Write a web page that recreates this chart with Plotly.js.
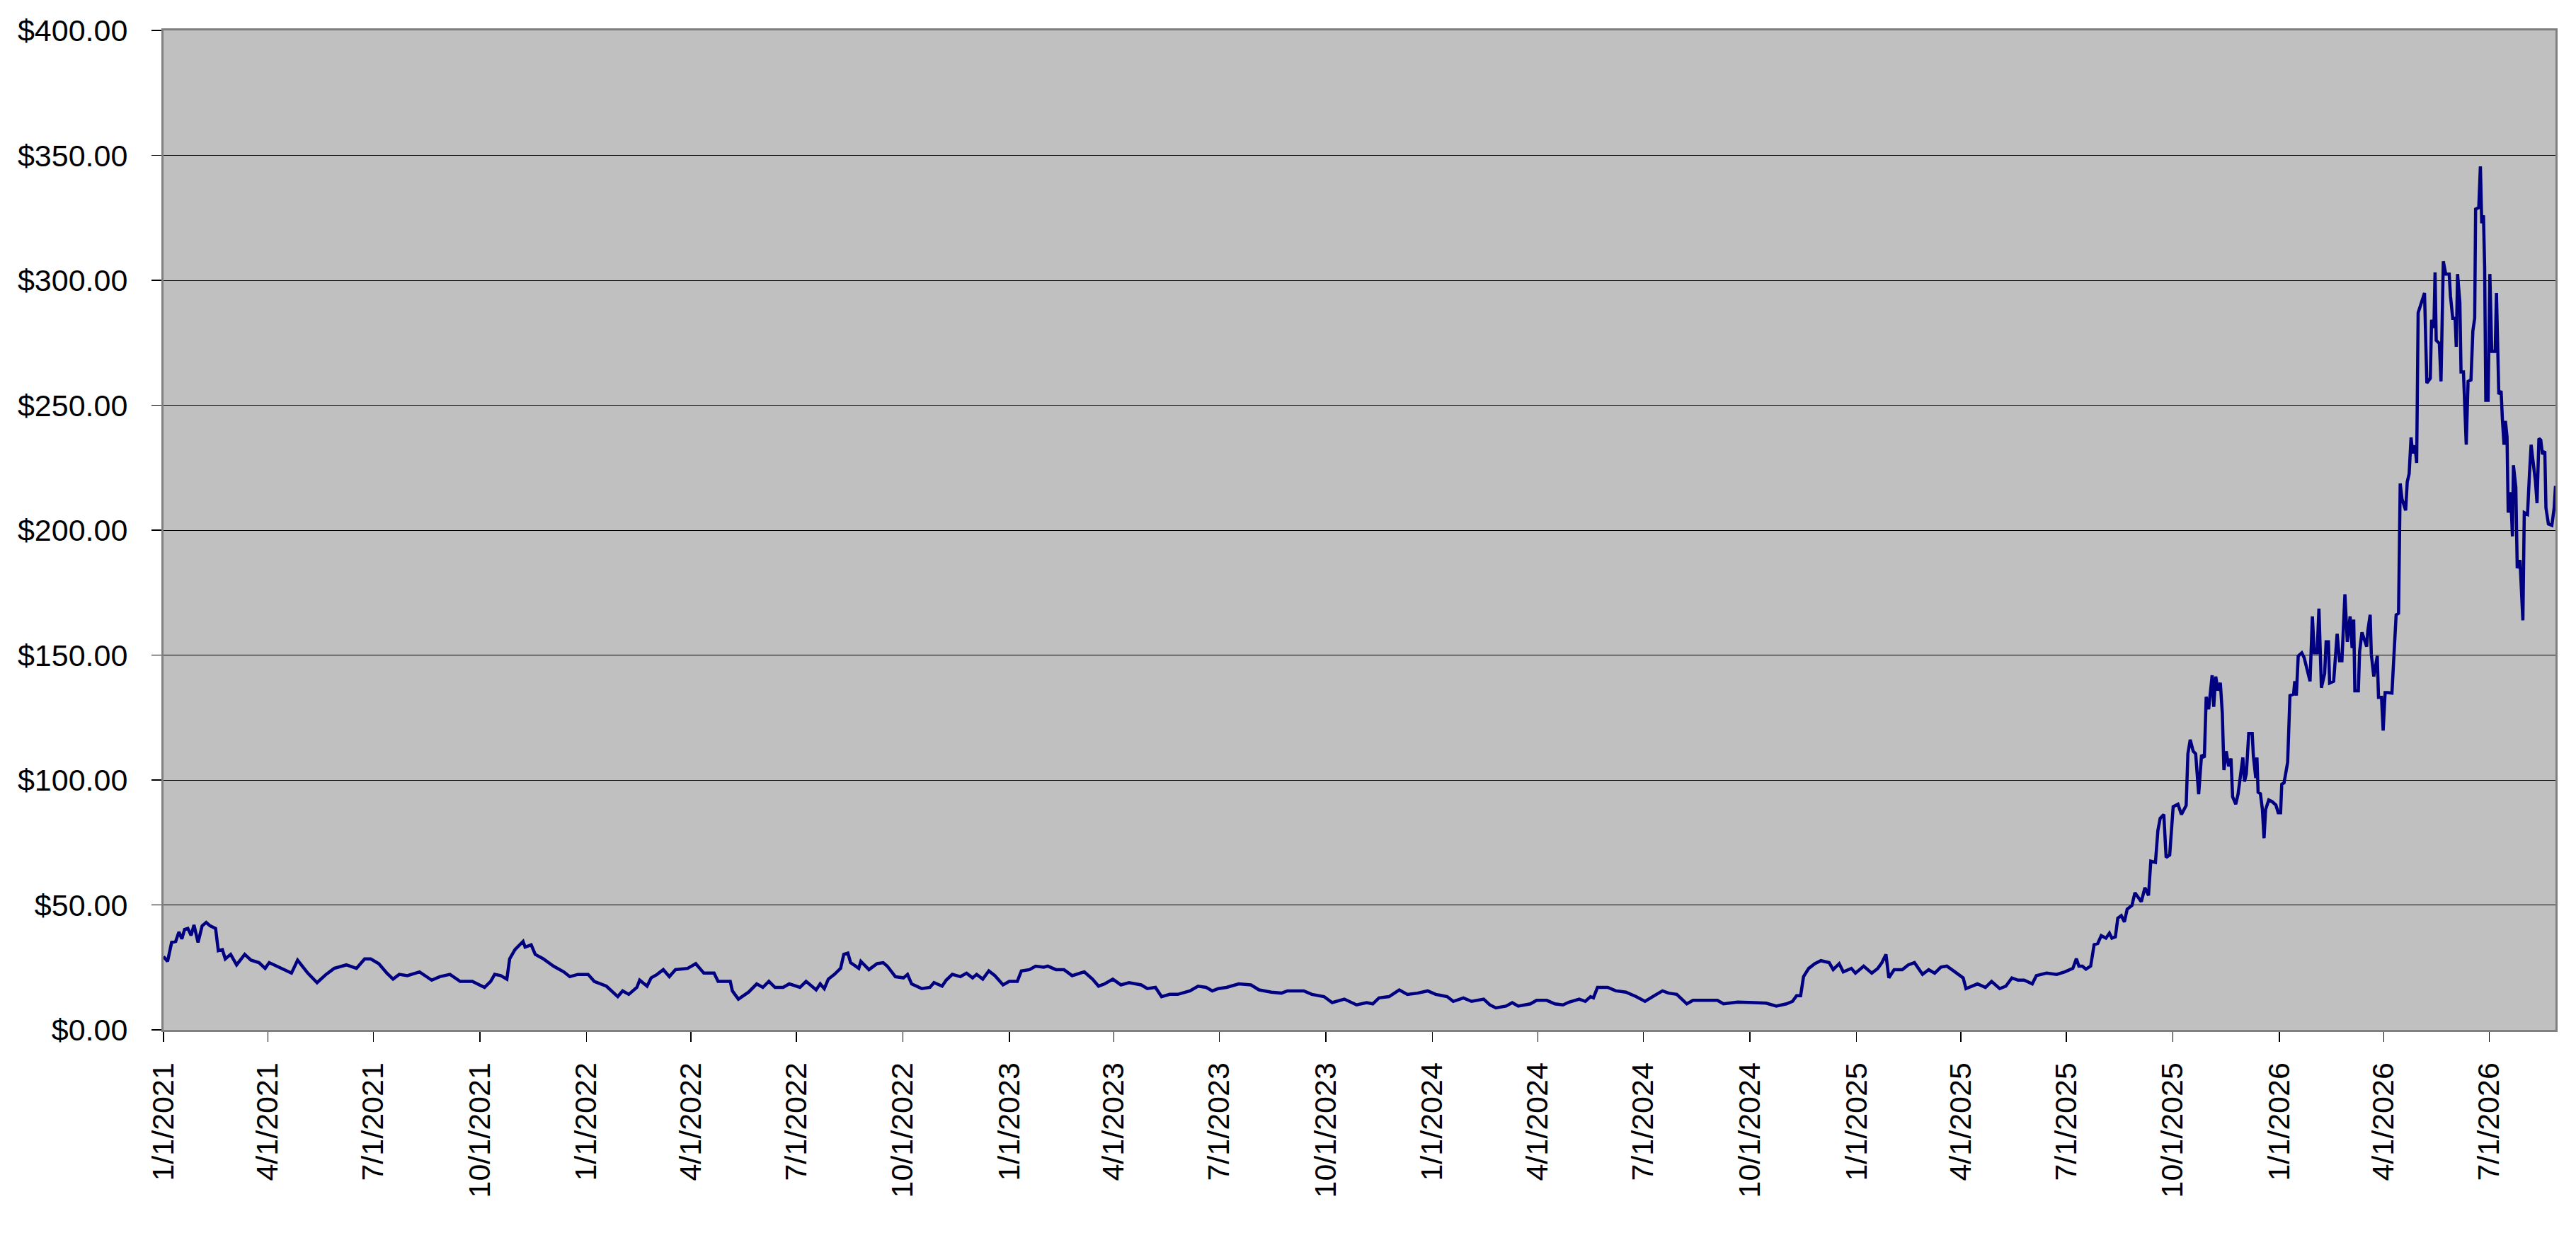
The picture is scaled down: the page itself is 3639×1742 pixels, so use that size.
<!DOCTYPE html>
<html>
<head>
<meta charset="utf-8">
<script src="https://cdn.plot.ly/plotly-3.0.1.min.js"></script>
<style>html,body{margin:0;padding:0;background:#fff;}</style>
</head>
<body>
<div id="chart" style="width:3639px;height:1742px;"></div>
<script>
// Start date of the series and day offsets of each observation
const START_DATE = "2021-01-01";
const dayOffsets = [
  0,3.5,7,10.5,13.3,15.8,18.2,21,23.8,26.3,29.8,33.3,36.8,40.3,44.9,47.3,50.8,53.3,57.9,63.1,
  70.1,75.4,82.4,87.7,91.2,101.7,106.9,110.4,115.7,124.5,132.5,140.3,147.3,157.8,166.5,173.6,178.8,185.8,192.8,198.1,
  203.4,210.4,220.9,231.4,238.4,247.2,256,266.5,277,282.3,285.8,291,296.3,298.7,303.3,310.3,312.1,317.3,320.8,327.8,
  336.6,345.4,350.6,357.6,366.4,371.7,382.2,392,396.2,401.5,408.5,410.9,417.3,420.8,426,431.3,436.5,441.8,452.3,459.3,
  466.3,475.1,478.6,489.1,490.9,496.1,504.9,511.9,517.2,522.4,527.7,534.7,540,
  549.2,554.5,559.7,563.2,566.7,570.2,573.7,579,584.3,587.1,590.6,593,600,601.8,608.8,615.8,621.1,624.6,631.6,638.6,
  642.1,645.6,654.4,661.4,664.9,671.9,675.4,680.7,687.7,693,698.2,701.7,707,712.2,717.5,724.5,729.8,736.8,740.3,747.3,
  752.6,759.6,763.1,770.1,777.1,784.1,794.6,801.7,806.9,812.2,819.2,826.2,833.2,843.7,849,856,861.3,868.3,875.3,885.8,
  892.8,899.8,905.1,910.3,917.4,927.9,938.4,945.4,955.9,964.7,969.9,984,991,1001.5,1008.5,1019,1029.6,1038.3,1043.6,1048.9,
  1057.6,1066.4,1073.4,1082.2,1090.9,1097.9,
  1107.8,1113,1121.8,1128.8,1139.3,1144.6,1149.8,1158.6,1163.9,1169.1,1179.6,1184.9,1193.7,1200.7,1207.7,1213,1221.7,1227,1231.5,1234,
  1237.5,1246.3,1253.3,1262,1270.8,1278.5,1286.6,1293.6,1298.9,1305.9,1314.6,1319.9,1330.4,1340.9,1346.2,1358.5,1372.5,1383,1391.8,1400.5,
  1405.8,1409.3,1412.8,1415.3,1419.8,1425.1,1430.3,1437.4,1440.9,1446.1,1449.6,1456.6,1460.1,1467.2,1474.2,1479.4,1482.9,1486.4,1488.9,1493.5,
  1500.5,1505.7,1511,1518,1523.3,1528.5,1533.8,1539,1546,1553.1,1555.5,1565.4,1572.3,1577.6,1584.6,1589.9,1595.1,1600.4,1605.7,1612.7,
  1616.2,1625,1633.7,1640.7,1647.7,
  1650.8,1652.9,1655.9,1659,1663.1,1666.1,1669.2,1672.2,1676.3,1679.3,1681.4,1684.4,1686.5,1689.5,1692.2,1694.6,1698.7,1701.3,1703.8,1706.8,
  1709.9,1713,1715,1719,1721.1,1723.1,1726.2,1728.2,1731.3,1734.3,1738.4,1741.4,1745.5,1747,1749,1751.6,1753.7,1756.3,1758.8,1761.2,
  1762.8,1764.9,1767.9,1769.3,1771,1773,1775,1776.7,1778.1,1780.1,1782.2,1784.2,1785.6,1788.3,1790.3,1792.4,1794.4,1795.8,1797.4,1799.5,
  1802.5,
  1803.5,1805.6,1806.6,1807.6,1809.6,1811.3,1812.7,1814.1,1816.8,1819.8,1822.9,1824.9,1827,1828,1830,1831.6,1833.1,1835.1,1838.2,1839.2,
  1840.6,1842.2,1845.3,1847.3,1849.4,1852.4,1854.4,1856.1,1858.5,1860.1,1862.2,1865,1866.3,1868.3,1869.3,1872.8,1875.8,1877.9,1879.9,1882.5,
  1884.6,1887,1888.7,1890.1,1891.1,1894.1,1895.2,1897.2,1901.3,1902.3,1904.3,1905.3,1907.4,1910.4,1911.5,1914.1,1915.5,1917.2,1919.6,1923.1,
  1924.7,1926.7,1928.8,1930.2,1931.8,1934.9,1936.3,1937.9,1939.6,1941,1943,1944.4,1945.7,
  1948.1,1951.2,1953.2,1956.2,1957.3,1959.3,1960.3,1961.3,1964,1965.4,1967.4,1969.5,1972.5,1973.6,1975.6,1977.6,1978.6,1979.7,1981.7,1982.7,
  1984.8,1985.8,1987.2,1988.8,1991.3,1992.9,1994.5,1995.3,1998,1999.4,2000.6,2002.1,2003.1,2004.1,2006.1,2007.6,2009.2,2012.2,2013.3,2015.3,
  2017.3,2018.4,2019.8,2021,2022.4,2023.4,2025.5,2027.1,2027.9,2030,2031.2,2033.6,2036.1,2037.3,2040.1,2041.8,2043.2,2044.8,2046.9,2048.3,
  2049.9,2051.5,2053,2055,2056,2058.1,2061.1,2063.1,2064.2
];
const prices = [
  29.3,27.4,35,35.4,39.2,36.4,40.2,40.6,37.8,42,35,41.6,43,41.6,40.6,31.7,32.1,28.4,30.2,26,
  30.2,27.9,26.9,24.6,26.9,24.6,23.2,22.7,27.9,22.7,18.9,22.2,24.6,26,24.6,28.4,28.4,26.5,22.7,20.3,
  22.2,21.7,23.2,19.9,21.3,22.2,19.4,19.4,17,19.4,22.2,21.7,20.3,28.4,32.1,35.4,33.1,34,30.2,28.4,
  25.5,23.2,21.3,22.2,22.2,19.4,17.5,13.3,15.6,14.2,17,19.9,17.5,20.8,22.2,24.1,21.3,24.1,24.6,26.5,
  22.7,22.7,19.4,19.4,15.6,12.3,15.1,18.4,17,19.4,17,17,18.4,
  17,19.4,17.5,16,18.4,16.5,20.3,22.2,24.6,30.2,30.7,26.9,24.6,27.4,24.1,26.5,26.9,25.5,21.3,20.8,
  22.2,18.4,16.5,17,18.9,17.5,19.9,22.2,21.3,22.7,20.8,22.2,20.3,23.6,21.7,18,19.4,19.4,23.6,24.1,
  25.5,25.1,25.5,24.1,24.1,21.7,23.2,20.3,17.5,18.4,20.3,18,18.9,18,16.5,17,13.3,14.2,14.2,15.6,
  17.5,17,15.6,16.5,17,18.4,18,16,15.1,14.7,15.6,15.6,14.2,13.3,10.9,12.3,10,10.9,10.4,12.8,
  13.3,16,14.2,14.7,15.6,14.2,
  13.3,11.4,12.8,11.4,12.3,10,8.8,9.5,10.9,9.5,10.4,11.8,11.8,10.4,10,11.1,12.3,11.4,13.3,12.8,
  17,17,15.6,15.1,13.3,11.4,13.7,15.6,14.7,14.2,10.4,11.8,11.8,11.8,10.4,11.1,10.9,10.7,9.5,10.4,
  11.4,13.7,13.7,21.3,24.6,26.5,27.7,26.9,24.1,26.5,23.2,24.6,22.7,25.5,22.7,24.6,26.9,30.2,20.8,24.1,
  24.1,26,26.9,22.2,24.1,22.7,25.1,25.5,23.2,20.8,16.5,18.4,17,19.4,16.5,17.5,20.8,19.9,19.9,18.4,
  21.7,22.7,22.2,23.2,24.6,
  28.5,25.5,25.5,24.3,25.5,34.1,34.6,37.7,36.7,38.7,36.7,37.2,44.7,45.7,43.2,48.3,49.8,54.9,53.3,51.3,
  56.9,53.8,67.5,67,79.7,84.7,86.2,69,70,89.3,90.3,86.2,89.8,110.5,116.1,111.5,110.5,94.3,110,109,
  133.3,128.3,141.9,129.3,141.4,135.8,138.9,126.7,104,111.5,105.5,108.6,93.3,90.3,94.3,101.4,109,99.4,102.4,118.6,
  118.6,
  109.7,100.8,109,95.1,94.5,88.2,76.7,88.2,92,91.3,90,86.9,86.9,98.3,98.9,103.4,107.1,133.8,134.4,139.5,
  133.8,149.6,150.9,149,144.6,139.5,165.5,150.9,150.9,168.6,136.9,142.6,155.3,155.3,138.8,139.5,158.5,147.7,147.7,174.3,
  155.3,165.5,152.8,164.2,135.7,135.7,151.5,159.1,153.4,159.8,166.1,150.3,141.4,149.6,133.1,133.1,119.8,135,135,134.8,
  149,166.1,166.7,218.7,212.4,207.9,219.3,222.5,237.1,230.7,233.9,226.9,287,
  290.5,294.9,258.9,260.8,284.2,281,303.2,276,274.7,259.5,307.6,302.5,302.5,293.7,284.8,284.8,273.4,302.5,291.1,263.3,
  263.3,253.8,234.2,259.5,260.1,279.7,284.8,328.5,329.1,345.6,322.8,326,305.1,252,252,302.5,271.5,271.5,294.9,254.4,
  255.7,244.3,234.2,243.7,237.3,207,215.2,197.5,226,217.1,184.8,188,163.9,207,206.3,222.8,234.2,227.8,219.6,210.8,
  236.7,236.1,230.4,231.6,208.9,202.5,201.9,208.9,217.7
];

const startMs = Date.parse(START_DATE + "T00:00:00Z");
function toDate(d) {
  const ms = startMs + Math.round(d * 24) * 3600000;
  return new Date(ms).toISOString().slice(0, 19).replace("T", " ");
}
const dates = dayOffsets.map(toDate);

const FONT = "Liberation Sans, Arial, Helvetica, sans-serif";

const trace = {
  type: "scatter",
  mode: "lines",
  x: dates,
  y: prices,
  line: { color: "#000080", width: 4.5 },
  hoverinfo: "skip"
};

const layout = {
  width: 3639,
  height: 1742,
  margin: { l: 231, r: 29, t: 43, b: 287, pad: 0 },
  paper_bgcolor: "#ffffff",
  plot_bgcolor: "#C0C0C0",
  showlegend: false,
  font: { family: FONT, color: "#000000", size: 43 },
  xaxis: {
    type: "date",
    range: [dates[0], dates[dates.length - 1]],
    tick0: START_DATE,
    dtick: "M3",
    tickformat: "%-m/%-d/%Y",
    tickangle: -90,
    ticks: "outside",
    ticklen: 14,
    tickwidth: 1.5,
    tickcolor: "#000000",
    ticklabelstandoff: 12,
    showgrid: false,
    zeroline: false,
    showline: true,
    mirror: true,
    linecolor: "#808080",
    linewidth: 3,
    tickfont: { family: FONT, size: 43, color: "#000000" }
  },
  yaxis: {
    range: [0, 400],
    tick0: 0,
    dtick: 50,
    tickprefix: "$",
    tickformat: ".2f",
    ticks: "outside",
    ticklen: 14,
    tickwidth: 1.5,
    tickcolor: "#000000",
    ticklabelstandoff: 25,
    showgrid: true,
    gridcolor: "#000000",
    gridwidth: 1,
    zeroline: false,
    showline: true,
    mirror: true,
    linecolor: "#808080",
    linewidth: 3,
    tickfont: { family: FONT, size: 43, color: "#000000" }
  }
};

Plotly.newPlot("chart", [trace], layout, { staticPlot: true, displayModeBar: false });
</script>
</body>
</html>
